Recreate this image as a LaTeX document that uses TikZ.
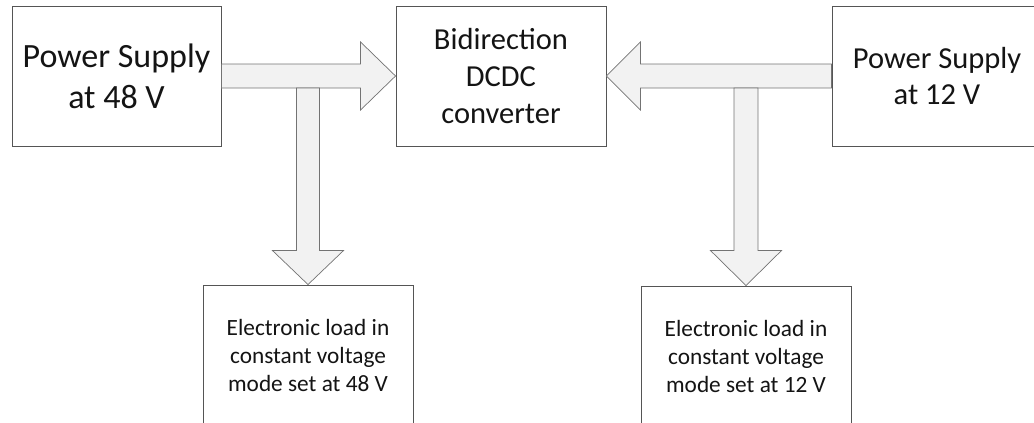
\documentclass[tikz,border=0pt]{standalone}
\usepackage{fontspec}
\setmainfont{Carlito}
\usetikzlibrary{calc}
\definecolor{boxline}{RGB}{85,85,85}
\definecolor{arrline}{RGB}{115,115,115}
\definecolor{arrfill}{RGB}{242,242,242}
\definecolor{txt}{RGB}{20,20,20}
\begin{document}
\begin{tikzpicture}[x=1pt,y=-1pt,
  block/.style={draw=boxline, line width=0.9pt, fill=white, align=center,
    inner sep=0pt, text=txt, minimum height=140pt, minimum width=210pt},
  fatarrow/.style={draw=arrline, line width=0.7pt, fill=arrfill, line join=miter}]
\path[use as bounding box] (0,0) rectangle (1034,423);
\clip (0,0) rectangle (1034,423);
% boxes
\node[block, minimum width=209pt, font=\fontsize{34}{41}\selectfont] (ps48) at (116.5,76) {Power Supply\\at 48 V};
\node[block, font=\fontsize{30.5}{37}\selectfont] (conv) at (501,76) {Bidirection\\DCDC\\converter};
\node[block, font=\fontsize{30.5}{36}\selectfont] (ps12) at (937,76) {Power Supply\\at 12 V};
\node[block, font=\fontsize{23.3}{28}\selectfont] (load48) at (308,355) {Electronic load in\\constant voltage\\mode set at 48 V};
\node[block, font=\fontsize{23.3}{28}\selectfont] (load12) at (746,356) {Electronic load in\\constant voltage\\mode set at 12 V};
% horizontal arrows
\draw[fatarrow] ($(ps48.east)+(0,-12)$) -- ($(conv.west)+(-35,-12)$) -- ($(conv.west)+(-35,-34)$)
  -- (conv.west) -- ($(conv.west)+(-35,34)$) -- ($(conv.west)+(-35,12)$) -- ($(ps48.east)+(0,12)$) -- cycle;
\draw[fatarrow] ($(ps12.west)+(0,-12)$) -- ($(conv.east)+(34,-12)$) -- ($(conv.east)+(34,-34)$)
  -- (conv.east) -- ($(conv.east)+(34,34)$) -- ($(conv.east)+(34,12)$) -- ($(ps12.west)+(0,12)$) -- cycle;
% junctions on the horizontal shafts
\coordinate (j48) at ($(load48.north |- ps48.east)+(0,12)$);
\coordinate (j12) at ($(load12.north |- ps12.west)+(0,12)$);
% down arrows
\draw[fatarrow] ($(j48)+(-11.5,0)$) -- ($(load48.north)+(-11.5,-34)$) -- ($(load48.north)+(-35.5,-34)$)
  -- (load48.north) -- ($(load48.north)+(35.5,-34)$) -- ($(load48.north)+(11.5,-34)$) -- ($(j48)+(11.5,0)$) -- cycle;
\draw[fatarrow] ($(j12)+(-12,0)$) -- ($(load12.north)+(-12,-35)$) -- ($(load12.north)+(-35.5,-35)$)
  -- (load12.north) -- ($(load12.north)+(35.5,-35)$) -- ($(load12.north)+(12,-35)$) -- ($(j12)+(12,0)$) -- cycle;
\end{tikzpicture}
\end{document}
